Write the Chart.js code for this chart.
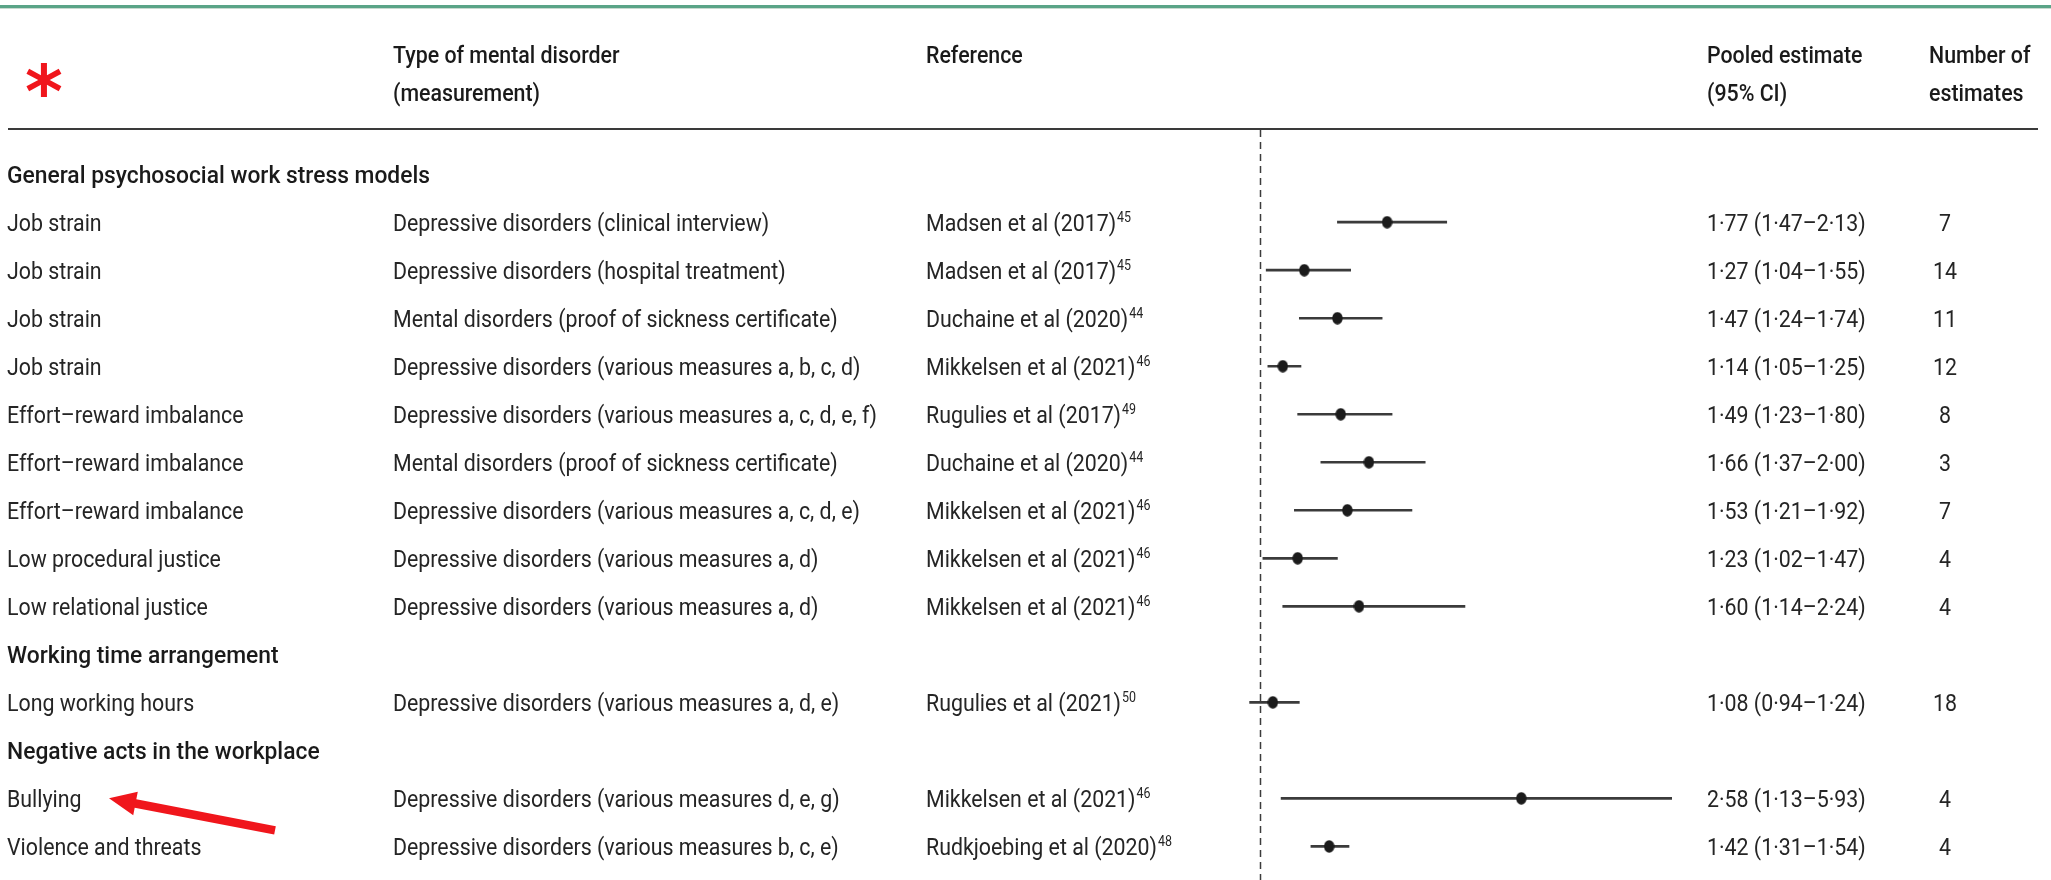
<!DOCTYPE html>
<html>
<head>
<meta charset="utf-8">
<title>Pooled estimates of psychosocial work factors and mental disorders</title>
<script src="https://cdn.jsdelivr.net/npm/chart.js@4.4.1/dist/chart.umd.min.js"></script>
<style>
  html, body { margin: 0; padding: 0; background: #ffffff; }
  #wrap { position: relative; width: 2051px; height: 880px; }
</style>
</head>
<body>
<div id="wrap"><canvas id="forest"></canvas></div>
<script>
// ---- table content -------------------------------------------------------
const sections = [
  'General psychosocial work stress models',
  'Working time arrangement',
  'Negative acts in the workplace'
];
const sectionIndex = [0, 0, 0, 0, 0, 0, 0, 0, 0, 1, 2, 2];
const exposures = [
  'Job strain', 'Job strain', 'Job strain', 'Job strain',
  'Effort–reward imbalance', 'Effort–reward imbalance', 'Effort–reward imbalance',
  'Low procedural justice', 'Low relational justice',
  'Long working hours',
  'Bullying', 'Violence and threats'
];
const disorders = [
  'Depressive disorders (clinical interview)',
  'Depressive disorders (hospital treatment)',
  'Mental disorders (proof of sickness certificate)',
  'Depressive disorders (various measures a, b, c, d)',
  'Depressive disorders (various measures a, c, d, e, f)',
  'Mental disorders (proof of sickness certificate)',
  'Depressive disorders (various measures a, c, d, e)',
  'Depressive disorders (various measures a, d)',
  'Depressive disorders (various measures a, d)',
  'Depressive disorders (various measures a, d, e)',
  'Depressive disorders (various measures d, e, g)',
  'Depressive disorders (various measures b, c, e)'
];
const authors = [
  'Madsen et al (2017)', 'Madsen et al (2017)', 'Duchaine et al (2020)', 'Mikkelsen et al (2021)',
  'Rugulies et al (2017)', 'Duchaine et al (2020)', 'Mikkelsen et al (2021)', 'Mikkelsen et al (2021)',
  'Mikkelsen et al (2021)', 'Rugulies et al (2021)', 'Mikkelsen et al (2021)', 'Rudkjoebing et al (2020)'
];
const refNumbers = ['45', '45', '44', '46', '49', '44', '46', '46', '46', '50', '46', '48'];
const estimates = [1.77, 1.27, 1.47, 1.14, 1.49, 1.66, 1.53, 1.23, 1.60, 1.08, 2.58, 1.42];
const lowerCI   = [1.47, 1.04, 1.24, 1.05, 1.23, 1.37, 1.21, 1.02, 1.14, 0.94, 1.13, 1.31];
const upperCI   = [2.13, 1.55, 1.74, 1.25, 1.80, 2.00, 1.92, 1.47, 2.24, 1.24, 5.93, 1.54];
const estimateCounts = [7, 14, 11, 12, 8, 3, 7, 4, 4, 18, 4, 4];
const columnHeaders = [
  ['Type of mental disorder', '(measurement)'],
  ['Reference'],
  ['Pooled estimate', '(95% CI)'],
  ['Number of', 'estimates']
];
const nullValue = 1;
const axisMin = 0.9;
const axisMax = 3.49;

// ---- row layout: a section title takes its own row above its items -------
const sectionRows = [];
const itemRows = [];
(function () {
  let r = 0, prev = -1;
  sectionIndex.forEach((s, i) => {
    if (s !== prev) { sectionRows.push(r); r++; prev = s; }
    itemRows.push(r); r++;
  });
})();

// ---- look ----------------------------------------------------------------
const FONT_FAMILY = 'Roboto, "Noto Sans", "Liberation Sans", sans-serif';
const TEXT_SIZE = 24;
const TEXT_COLOR = '#252525';
const HEAD_COLOR = '#1a1a1a';
const MARK_COLOR = '#1b1b1b';
const LINE_COLOR = '#3b3b3b';
const RED = '#f0161c';
const COL_X = { exposure: 7, disorder: 393, reference: 926, pooled: 1707, countHead: 1929, count: 1945 };

const fmt = v => v.toFixed(2).replace('.', '·');

// filled oval used as the point marker
const dot = document.createElement('canvas');
dot.width = 11; dot.height = 13;
(function () {
  const c = dot.getContext('2d');
  c.fillStyle = MARK_COLOR;
  c.beginPath();
  c.ellipse(5.5, 6.5, 5.2, 6.2, 0, 0, Math.PI * 2);
  c.fill();
})();

function fitRatio(ctx, s, weight, target) {
  ctx.save();
  ctx.font = `${weight} ${TEXT_SIZE}px ${FONT_FAMILY}`;
  const r = target / ctx.measureText(s).width;
  ctx.restore();
  return r;
}

function text(ctx, s, x, y, opts = {}) {
  const squeeze = opts.squeeze || 1;
  ctx.save();
  ctx.font = `${opts.weight || 'normal'} ${opts.size || TEXT_SIZE}px ${FONT_FAMILY}`;
  ctx.fillStyle = opts.color || TEXT_COLOR;
  ctx.textAlign = opts.align || 'left';
  ctx.textBaseline = 'alphabetic';
  const w = ctx.measureText(s).width * squeeze;
  ctx.translate(x, y);
  ctx.scale(squeeze, 1);
  ctx.fillText(s, 0, 0);
  ctx.restore();
  return w;
}

const tablePlugin = {
  id: 'tableText',
  beforeDraw(chart) {
    const { ctx, chartArea } = chart;
    ctx.save();
    ctx.fillStyle = '#ffffff';
    ctx.fillRect(0, 0, chart.width, chart.height);
    // green rule at the very top
    ctx.fillStyle = '#5aa487';
    ctx.fillRect(0, 5, chart.width, 3);
    ctx.fillStyle = '#c9d9d0';
    ctx.fillRect(0, 8, chart.width, 1);
    // rule below the column headers
    ctx.fillStyle = '#3a3a3a';
    ctx.fillRect(8, chartArea.top - 2, 2030, 2);
    ctx.restore();
  },
  beforeDatasetsDraw(chart) {
    // dashed line of no effect (ratio = 1)
    const { ctx, chartArea, scales } = chart;
    const x = Math.round(scales.x.getPixelForValue(nullValue)) + 0.5;
    ctx.save();
    ctx.strokeStyle = '#3c3c3c';
    ctx.lineWidth = 1.5;
    ctx.setLineDash([7, 5]);
    ctx.beginPath();
    ctx.moveTo(x, chartArea.top);
    ctx.lineTo(x, chart.height);
    ctx.stroke();
    ctx.restore();
  },
  afterDraw(chart) {
    const { ctx, chartArea, scales } = chart;
    const y = scales.y;

    // horizontal squeeze so each face runs at the width of the table's type
    const body = fitRatio(ctx, 'Depressive disorders (various measures a, c, d, e, f)', 'normal', 484);
    const head = fitRatio(ctx, 'General psychosocial work stress models', '500', 423);

    // column headers
    const h1 = chartArea.top - 67, h2 = chartArea.top - 29;
    const headX = [COL_X.disorder, COL_X.reference, COL_X.pooled, COL_X.countHead];
    columnHeaders.forEach((lines, i) => {
      lines.forEach((s, j) => text(ctx, s, headX[i], j === 0 ? h1 : h2,
        { color: HEAD_COLOR, weight: '500', squeeze: body }));
    });

    // section titles
    sections.forEach((s, i) => {
      text(ctx, s, COL_X.exposure, y.getPixelForValue(sectionRows[i]) + 9,
        { weight: '500', color: HEAD_COLOR, squeeze: head });
    });

    // item rows
    exposures.forEach((s, i) => {
      const by = y.getPixelForValue(itemRows[i]) + 9;
      text(ctx, s, COL_X.exposure, by, { squeeze: body });
      text(ctx, disorders[i], COL_X.disorder, by, { squeeze: body });
      const w = text(ctx, authors[i], COL_X.reference, by, { squeeze: body });
      text(ctx, refNumbers[i], COL_X.reference + w + 1, by - 9, { size: 14, squeeze: body });
      text(ctx, `${fmt(estimates[i])} (${fmt(lowerCI[i])}–${fmt(upperCI[i])})`, COL_X.pooled, by, { squeeze: body });
      text(ctx, String(estimateCounts[i]), COL_X.count, by, { align: 'center', squeeze: body });
    });

    // red asterisk in the header corner
    ctx.save();
    ctx.font = `bold 100px "DejaVu Sans", sans-serif`;
    let m = ctx.measureText('*');
    const gh = m.actualBoundingBoxAscent + m.actualBoundingBoxDescent;
    const size = 100 * 34 / gh;
    ctx.font = `bold ${size}px "DejaVu Sans", sans-serif`;
    m = ctx.measureText('*');
    const cx = 44, cy = 80;
    ctx.fillStyle = RED;
    ctx.textAlign = 'left';
    ctx.textBaseline = 'alphabetic';
    ctx.fillText('*', cx - (m.actualBoundingBoxRight - m.actualBoundingBoxLeft) / 2,
      cy + (m.actualBoundingBoxAscent - m.actualBoundingBoxDescent) / 2);
    ctx.restore();

    // red arrow pointing at the bullying row
    const tip = { x: 109, y: y.getPixelForValue(itemRows[10]) };
    const tail = { x: 275, y: tip.y + 32 };
    const dx = tip.x - tail.x, dy = tip.y - tail.y, len = Math.hypot(dx, dy);
    const ux = dx / len, uy = dy / len, nx = -uy, ny = ux;
    const headLen = 27, headHalf = 12, shaftHalf = 4.3;
    const bx = tip.x - ux * headLen, by = tip.y - uy * headLen;
    ctx.save();
    ctx.fillStyle = RED;
    ctx.beginPath();
    ctx.moveTo(tail.x + nx * shaftHalf, tail.y + ny * shaftHalf);
    ctx.lineTo(bx + nx * shaftHalf, by + ny * shaftHalf);
    ctx.lineTo(bx + nx * headHalf, by + ny * headHalf);
    ctx.lineTo(tip.x, tip.y);
    ctx.lineTo(bx - nx * headHalf, by - ny * headHalf);
    ctx.lineTo(bx - nx * shaftHalf, by - ny * shaftHalf);
    ctx.lineTo(tail.x - nx * shaftHalf, tail.y - ny * shaftHalf);
    ctx.closePath();
    ctx.fill();
    ctx.restore();
  }
};

const ciData = itemRows.map((r, i) => ({ y: r, x: [lowerCI[i], upperCI[i]] }));
const pointData = itemRows.map((r, i) => ({ y: r, x: estimates[i] }));

new Chart(document.getElementById('forest'), {
  type: 'bar',
  data: {
    datasets: [
      {
        type: 'bar',
        label: '95% CI',
        data: ciData,
        backgroundColor: LINE_COLOR,
        borderWidth: 0,
        barThickness: 2,
        clip: 0,
        order: 2
      },
      {
        type: 'scatter',
        label: 'Pooled estimate',
        data: pointData,
        pointStyle: dot,
        pointRadius: 6,
        showLine: false,
        clip: false,
        order: 1
      }
    ]
  },
  options: {
    indexAxis: 'y',
    responsive: true,
    maintainAspectRatio: false,
    animation: false,
    events: [],
    layout: { autoPadding: false, padding: { left: 1243, right: 2051 - 1672, top: 130, bottom: 0 } },
    plugins: { legend: { display: false }, tooltip: { enabled: false }, title: { display: false } },
    scales: {
      x: {
        type: 'linear',
        min: axisMin,
        max: axisMax,
        offset: false,
        display: false
      },
      y: {
        type: 'linear',
        min: -0.92,
        max: 14.70,
        reverse: true,
        offset: false,
        display: false
      }
    }
  },
  plugins: [tablePlugin]
});
</script>
</body>
</html>
